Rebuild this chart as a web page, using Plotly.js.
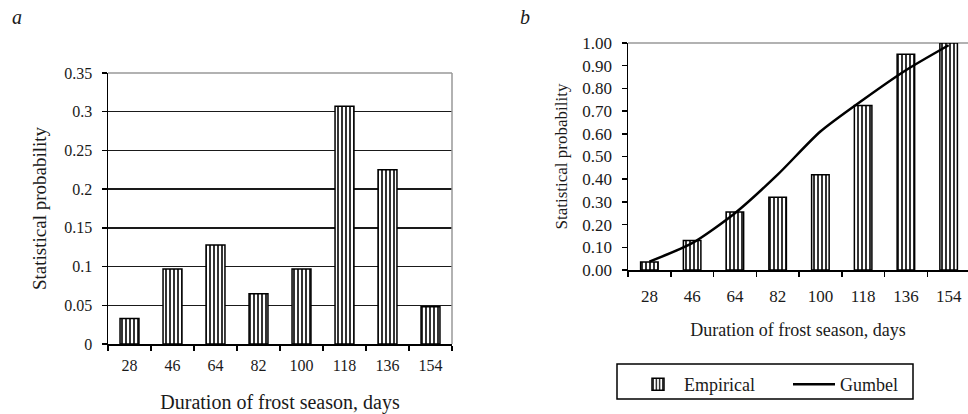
<!DOCTYPE html>
<html>
<head>
<meta charset="utf-8">
<script src="https://cdn.plot.ly/plotly-3.0.1.min.js"></script>
<style>html,body{margin:0;padding:0;background:#fff;}#chart{width:968px;height:414px;}</style>
</head>
<body>
<div id="chart"></div>
<script>
// ---- data ----
const categories = ['28', '46', '64', '82', '100', '118', '136', '154'];
const probA = [0.033, 0.097, 0.128, 0.065, 0.097, 0.307, 0.225, 0.048];
const empiricalB = [0.035, 0.13, 0.255, 0.32, 0.42, 0.725, 0.95, 1.00];
const gumbelB = [0.037, 0.118, 0.25, 0.42, 0.61, 0.75, 0.88, 0.99];
const xTitle = 'Duration of frost season, days';
const yTitle = 'Statistical probability';

// ---- layout helpers ----
const W = 968, H = 414;
const px = x => x / W;
const py = y => 1 - y / H;
const FONT = 'Liberation Serif, Times New Roman, serif';
const INK = '#1a1a1a';

const pattern = {shape: '|', fgcolor: '#000', bgcolor: '#fff', size: 4, solidity: 0.4};

const traces = [
  {
    type: 'bar', x: categories, y: probA, xaxis: 'x', yaxis: 'y',
    width: 0.44, showlegend: false, name: 'a',
    marker: {color: '#fff', pattern: pattern, line: {color: '#000', width: 1.5}}
  },
  {
    type: 'bar', x: categories, y: empiricalB, xaxis: 'x2', yaxis: 'y2',
    width: 0.41, name: 'Empirical',
    marker: {color: '#fff', pattern: pattern, line: {color: '#000', width: 1.5}}
  },
  {
    type: 'scatter', mode: 'lines', x: categories, y: gumbelB, xaxis: 'x2', yaxis: 'y2',
    name: 'Gumbel', line: {color: '#000', width: 2.5, shape: 'spline', smoothing: 0.7}
  }
];

const axisCommon = {
  showline: true, linecolor: '#000', linewidth: 1.5,
  ticks: 'outside', ticklen: 5, tickwidth: 1.5, tickcolor: '#000',
  tickfont: {family: FONT, size: 16, color: INK},
  zeroline: false, automargin: false, fixedrange: true
};

const layout = {
  width: W, height: H,
  margin: {l: 0, r: 0, t: 0, b: 0},
  paper_bgcolor: '#fff', plot_bgcolor: '#fff',
  font: {family: FONT, color: INK},
  barmode: 'overlay',
  xaxis: Object.assign({}, axisCommon, {
    domain: [px(108), px(452)], anchor: 'y', type: 'category',
    tickson: 'boundaries', showgrid: false, ticklabelstandoff: 6,
    title: {text: xTitle, font: {family: FONT, size: 20, color: INK}, standoff: 22}
  }),
  yaxis: Object.assign({}, axisCommon, {
    domain: [py(344), py(73)], anchor: 'x', range: [0, 0.35], dtick: 0.05,
    showgrid: true, gridcolor: '#1a1a1a', gridwidth: 1.5, ticklabelstandoff: 6,
    title: {text: yTitle, font: {family: FONT, size: 19, color: INK}, standoff: 12}
  }),
  xaxis2: Object.assign({}, axisCommon, {
    domain: [px(628), 1], anchor: 'y2', type: 'category', range: [-0.5, 7.453],
    tickson: 'boundaries', showgrid: false, ticklabelstandoff: 10,
    tickfont: {family: FONT, size: 17, color: INK},
    title: {text: xTitle, font: {family: FONT, size: 18, color: INK}, standoff: 18}
  }),
  yaxis2: Object.assign({}, axisCommon, {
    domain: [py(270), py(43)], anchor: 'x2', range: [0, 1], dtick: 0.1, tickformat: '.2f',
    showgrid: false, ticklabelstandoff: 6,
    tickfont: {family: FONT, size: 17, color: INK},
    title: {text: yTitle, font: {family: FONT, size: 17, color: INK}, standoff: 10}
  }),
  shapes: [
    // grey frame (top and right) of panel a
    {type: 'line', xref: 'x domain', yref: 'y domain', x0: 0, x1: 1, y0: 1, y1: 1, line: {color: '#999', width: 1.5}, layer: 'above'},
    {type: 'line', xref: 'x domain', yref: 'y domain', x0: 1, x1: 1, y0: 0, y1: 1, line: {color: '#999', width: 1.5}, layer: 'above'},
    // grey top line of panel b
    {type: 'line', xref: 'x2 domain', yref: 'y2 domain', x0: 0, x1: 1, y0: 1, y1: 1, line: {color: '#999', width: 1.5}, layer: 'below'},
    // legend frame
    {type: 'rect', xref: 'paper', yref: 'paper', x0: px(617), x1: px(913), y0: py(399), y1: py(364), line: {color: '#000', width: 1.5}, fillcolor: 'rgba(0,0,0,0)', layer: 'above'}
  ],
  annotations: [
    {text: '<i>a</i>', xref: 'paper', yref: 'paper', x: px(10), y: py(17), xanchor: 'left', yanchor: 'middle', showarrow: false, font: {family: FONT, size: 20, color: INK}},
    {text: '<i>b</i>', xref: 'paper', yref: 'paper', x: px(518), y: py(17), xanchor: 'left', yanchor: 'middle', showarrow: false, font: {family: FONT, size: 20, color: INK}}
  ],
  showlegend: true,
  legend: {
    orientation: 'h', x: px(632), y: py(366), xanchor: 'left', yanchor: 'top',
    borderwidth: 0, bgcolor: 'rgba(0,0,0,0)',
    font: {family: FONT, size: 18, color: INK},
    entrywidth: 99, itemwidth: 42, traceorder: 'normal'
  }
};

Plotly.newPlot('chart', traces, layout, {displayModeBar: false, staticPlot: true});
</script>
</body>
</html>
